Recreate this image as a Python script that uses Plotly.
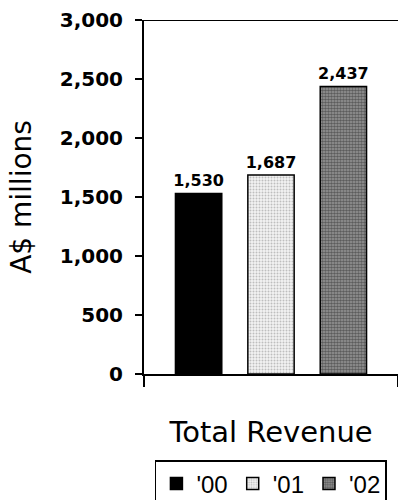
import plotly.graph_objects as go

# Revenue by financial year (A$ millions)
category = ["Total Revenue"]
years = ["'00", "'01", "'02"]
revenue = [1530, 1687, 2437]
y_ticks = [0, 500, 1000, 1500, 2000, 2500, 3000]

styles = [
    dict(color="#000000", pattern=dict(shape="")),
    dict(color="#ffffff", pattern=dict(shape=".", fgcolor="#8a8a8a", bgcolor="#f2f2f2",
                                        size=3, solidity=0.35, fillmode="overlay")),
    dict(color="#7a7a7a", pattern=dict(shape=".", fgcolor="#1e1e1e", bgcolor="#9a9a9a",
                                        size=3, solidity=0.6, fillmode="overlay")),
]

fig = go.Figure()
for yr, val, st in zip(years, revenue, styles):
    fig.add_trace(go.Bar(
        x=category, y=[val], name=yr,
        marker=dict(color=st["color"], pattern=st["pattern"],
                    line=dict(color="#000000", width=1.5)),
        text=[f"{val:,}"], textposition="outside", cliponaxis=False,
        constraintext="none",
        textfont=dict(family="DejaVu Sans", size=16, color="#000000", weight="bold"),
    ))

fig.update_layout(
    width=398, height=500,
    margin=dict(l=144, r=0, t=20, b=126, autoexpand=False),
    paper_bgcolor="white", plot_bgcolor="white",
    barmode="group", bargap=0.145, bargroupgap=0.36,
    showlegend=True,
    legend=dict(orientation="h", x=0.043, xanchor="left", y=-0.243, yanchor="top",
                bordercolor="#000000", borderwidth=1.5, bgcolor="white",
                font=dict(family="Liberation Sans", size=24, color="#000000"),
                itemwidth=30, tracegroupgap=0),
    yaxis=dict(range=[0, 3000], tickvals=y_ticks, ticktext=[f"{v:,}" for v in y_ticks],
               showgrid=False, zeroline=False, showline=True, linecolor="#000000",
               linewidth=2, ticks="outside", ticklen=7, tickwidth=2, tickcolor="#000000",
               ticklabelstandoff=8,
               tickfont=dict(family="DejaVu Sans", size=20, color="#000000", weight="bold"),
               title=dict(text="A$ millions", standoff=20,
                          font=dict(family="DejaVu Sans", size=28, color="#000000"))),
    xaxis=dict(showgrid=False, zeroline=False, showline=True, linecolor="#000000",
               linewidth=2, ticks="outside", tickson="boundaries", ticklen=11,
               tickwidth=2, tickcolor="#000000", ticklabelstandoff=31,
               tickfont=dict(family="DejaVu Sans", size=29, color="#000000")),
    shapes=[dict(type="line", xref="paper", yref="y", x0=0, x1=1, y0=3000, y1=3000,
                 line=dict(color="#000000", width=2))],
)

fig.write_html("out.html")
